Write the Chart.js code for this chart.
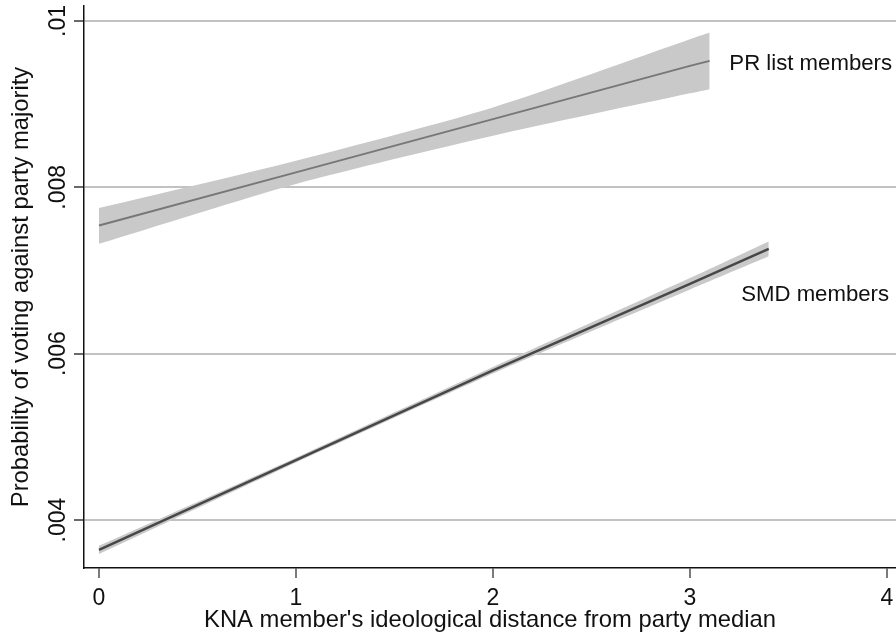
<!DOCTYPE html>
<html>
<head>
<meta charset="utf-8">
<script src="https://cdn.jsdelivr.net/npm/chart.js@4/dist/chart.umd.min.js"></script>
<style>
html,body{margin:0;padding:0;background:#fff;}
#wrap{width:896px;height:634px;}
</style>
</head>
<body>
<div id="wrap"><canvas id="c" width="896" height="634"></canvas></div>
<script>
// ---- data ----
const prX  = [0, 1, 2, 3, 3.1];
const prY  = [0.00754, 0.00818, 0.00882, 0.00946, 0.00952];
const prLo = [0.00732, 0.00804, 0.00862, 0.00913, 0.00918];
const prHi = [0.00775, 0.00832, 0.00896, 0.00978, 0.00986];

const smdX  = [0, 1, 2, 3, 3.4];
const smdY  = [0.00364, 0.00472, 0.00580, 0.00684, 0.00726];
const smdLo = [0.00359, 0.00469, 0.00576, 0.00677, 0.00717];
const smdHi = [0.00369, 0.00475, 0.00584, 0.00691, 0.00735];

const xTicks = [0, 1, 2, 3, 4];
const yTicks = [0.004, 0.006, 0.008, 0.01];
const yTickLabels = ['.004', '.006', '.008', '.01'];
const seriesLabels = ['PR list members', 'SMD members'];
const xTitle = "KNA member's ideological distance from party median";
const yTitle = 'Probability of voting against party majority';

const pts = (xs, ys) => xs.map((x, i) => ({x: x, y: ys[i]}));

const FONT = '"Liberation Sans", Arial, Helvetica, sans-serif';
const BAND = '#c9c9c9';

const textPlugin = {
  id: 'texts',
  afterDraw(chart) {
    const ctx = chart.ctx;
    const xs = chart.scales.x, ys = chart.scales.y;
    ctx.save();
    ctx.fillStyle = '#111111';
    // x tick labels
    ctx.font = '23px ' + FONT;
    ctx.textAlign = 'center';
    ctx.textBaseline = 'alphabetic';
    xTicks.forEach(v => ctx.fillText(String(v), xs.getPixelForValue(v), 605));
    // y tick labels (rotated)
    yTicks.forEach((v, i) => {
      ctx.save();
      ctx.translate(65, ys.getPixelForValue(v));
      ctx.rotate(-Math.PI / 2);
      ctx.textAlign = 'center';
      ctx.fillText(yTickLabels[i], 0, 0);
      ctx.restore();
    });
    // axis titles
    ctx.font = '23.8px ' + FONT;
    ctx.textAlign = 'center';
    ctx.fillText(xTitle, (chart.chartArea.left + chart.chartArea.right) / 2, 627);
    ctx.save();
    ctx.translate(28, (chart.chartArea.top + chart.chartArea.bottom) / 2);
    ctx.rotate(-Math.PI / 2);
    ctx.fillText(yTitle, 0, 0);
    ctx.restore();
    // series labels
    ctx.font = '22.2px ' + FONT;
    ctx.textAlign = 'left';
    ctx.fillText(seriesLabels[0], xs.getPixelForValue(3.2), 70);
    ctx.fillText(seriesLabels[1], xs.getPixelForValue(3.26), 301);
    ctx.restore();
  }
};

const band = {order: 2, showLine: true, borderWidth: 0, pointRadius: 0, tension: 0.25, borderColor: 'rgba(0,0,0,0)'};

new Chart(document.getElementById('c'), {
  type: 'scatter',
  data: {
    datasets: [
      Object.assign({data: pts(prX, prHi), fill: '+1', backgroundColor: BAND}, band),
      Object.assign({data: pts(prX, prLo), fill: false}, band),
      Object.assign({data: pts(smdX, smdHi), fill: '+1', backgroundColor: BAND}, band),
      Object.assign({data: pts(smdX, smdLo), fill: false}, band),
      {data: pts(prX, prY), order: 1, showLine: true, borderWidth: 2, pointRadius: 0, fill: false, borderColor: '#777777'},
      {data: pts(smdX, smdY), order: 0, showLine: true, borderWidth: 2.5, pointRadius: 0, fill: false, borderColor: '#474747'}
    ]
  },
  options: {
    responsive: false,
    animation: false,
    layout: {padding: {left: 0, right: 0, top: 6, bottom: 0}},
    plugins: {legend: {display: false}, tooltip: {enabled: false}},
    scales: {
      x: {
        type: 'linear', min: -0.076, max: 4.046,
        afterBuildTicks: s => { s.ticks = xTicks.map(v => ({value: v})); },
        afterFit: s => { s.height = 66; },
        ticks: {display: false},
        grid: {drawOnChartArea: false, drawTicks: true, tickLength: 10, tickColor: '#7a7a7a', lineWidth: 2},
        border: {display: true, color: '#111', width: 1.5}
      },
      y: {
        type: 'linear', min: 0.003423, max: 0.01018,
        afterBuildTicks: s => { s.ticks = yTicks.map(v => ({value: v})); },
        afterFit: s => { s.width = 84; },
        ticks: {display: false},
        grid: {drawOnChartArea: true, drawTicks: true, tickLength: 10, color: '#c2c2c2', tickColor: '#6a6a6a', lineWidth: 2},
        border: {display: true, color: '#111', width: 1.5}
      }
    }
  },
  plugins: [textPlugin]
});
</script>
</body>
</html>
